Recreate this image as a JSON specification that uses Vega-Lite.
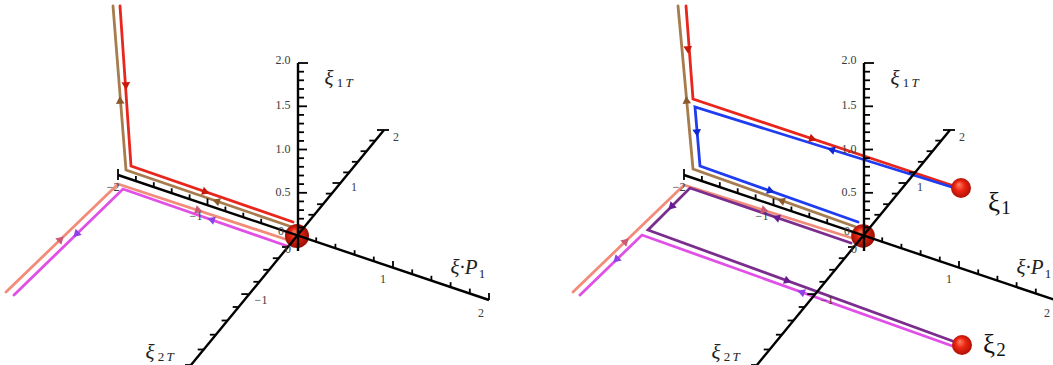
{
  "$schema": "https://vega.github.io/schema/vega-lite/v6.json",
  "padding": 0,
  "spacing": 0,
  "config": {"view": {"stroke": null}},
  "datasets": {
    "axisLines": [
      {"axis": "xi1T", "x": 295, "y": 248, "x2": 295, "y2": 60},
      {"axis": "xiP1", "x": 115, "y": 172, "x2": 486, "y2": 297},
      {"axis": "xi2T", "x": 381, "y": 127, "x2": 188, "y2": 362}
    ],
    "ticks": [
      {"x": 295, "y": 224.4, "x2": 301, "y2": 224.4},
      {"x": 295, "y": 215.7, "x2": 301, "y2": 215.7},
      {"x": 295, "y": 207.1, "x2": 301, "y2": 207.1},
      {"x": 295, "y": 198.4, "x2": 301, "y2": 198.4},
      {"x": 295, "y": 189.8, "x2": 304, "y2": 189.8},
      {"x": 295, "y": 181.1, "x2": 301, "y2": 181.1},
      {"x": 295, "y": 172.5, "x2": 301, "y2": 172.5},
      {"x": 295, "y": 163.8, "x2": 301, "y2": 163.8},
      {"x": 295, "y": 155.2, "x2": 301, "y2": 155.2},
      {"x": 295, "y": 146.5, "x2": 304, "y2": 146.5},
      {"x": 295, "y": 137.9, "x2": 301, "y2": 137.9},
      {"x": 295, "y": 129.2, "x2": 301, "y2": 129.2},
      {"x": 295, "y": 120.6, "x2": 301, "y2": 120.6},
      {"x": 295, "y": 111.9, "x2": 301, "y2": 111.9},
      {"x": 295, "y": 103.3, "x2": 304, "y2": 103.3},
      {"x": 295, "y": 94.6, "x2": 301, "y2": 94.6},
      {"x": 295, "y": 86.0, "x2": 301, "y2": 86.0},
      {"x": 295, "y": 77.3, "x2": 301, "y2": 77.3},
      {"x": 295, "y": 68.7, "x2": 301, "y2": 68.7},
      {"x": 295, "y": 60, "x2": 305, "y2": 60},
      {"x": 313.2, "y": 239.4, "x2": 313.2, "y2": 234.4},
      {"x": 332.4, "y": 245.8, "x2": 332.4, "y2": 240.8},
      {"x": 351.6, "y": 252.2, "x2": 351.6, "y2": 247.2},
      {"x": 370.8, "y": 258.6, "x2": 370.8, "y2": 253.6},
      {"x": 390, "y": 265, "x2": 390, "y2": 258},
      {"x": 409.2, "y": 271.4, "x2": 409.2, "y2": 266.4},
      {"x": 428.4, "y": 277.8, "x2": 428.4, "y2": 272.8},
      {"x": 447.6, "y": 284.2, "x2": 447.6, "y2": 279.2},
      {"x": 466.8, "y": 290.6, "x2": 466.8, "y2": 285.6},
      {"x": 486, "y": 297, "x2": 486, "y2": 290},
      {"x": 258.2, "y": 220.8, "x2": 258.2, "y2": 215.8},
      {"x": 240.3, "y": 214.7, "x2": 240.3, "y2": 209.7},
      {"x": 222.4, "y": 208.6, "x2": 222.4, "y2": 203.6},
      {"x": 204.5, "y": 202.5, "x2": 204.5, "y2": 195.5},
      {"x": 186.6, "y": 196.4, "x2": 186.6, "y2": 191.4},
      {"x": 168.7, "y": 190.3, "x2": 168.7, "y2": 185.3},
      {"x": 150.8, "y": 184.2, "x2": 150.8, "y2": 179.2},
      {"x": 132.9, "y": 178.1, "x2": 132.9, "y2": 173.1},
      {"x": 115, "y": 166, "x2": 115, "y2": 177},
      {"x": 311.4, "y": 211.8, "x2": 305.4, "y2": 211.8},
      {"x": 320.1, "y": 201.2, "x2": 314.1, "y2": 201.2},
      {"x": 328.8, "y": 190.6, "x2": 322.8, "y2": 190.6},
      {"x": 337.5, "y": 180, "x2": 329.5, "y2": 180},
      {"x": 346.2, "y": 169.4, "x2": 340.2, "y2": 169.4},
      {"x": 354.9, "y": 158.8, "x2": 348.9, "y2": 158.8},
      {"x": 363.6, "y": 148.2, "x2": 357.6, "y2": 148.2},
      {"x": 372.3, "y": 137.6, "x2": 366.3, "y2": 137.6},
      {"x": 374, "y": 127, "x2": 386, "y2": 127},
      {"x": 285.0, "y": 244.0, "x2": 279.0, "y2": 244.0},
      {"x": 275.8, "y": 255.2, "x2": 269.8, "y2": 255.2},
      {"x": 266.2, "y": 266.8, "x2": 260.2, "y2": 266.8},
      {"x": 256.4, "y": 278.8, "x2": 250.4, "y2": 278.8},
      {"x": 246.3, "y": 291.1, "x2": 238.3, "y2": 291.1},
      {"x": 235.7, "y": 304.0, "x2": 229.7, "y2": 304.0},
      {"x": 224.6, "y": 317.5, "x2": 218.6, "y2": 317.5},
      {"x": 212.9, "y": 331.7, "x2": 206.9, "y2": 331.7},
      {"x": 200.7, "y": 346.5, "x2": 194.7, "y2": 346.5},
      {"x": 188, "y": 362, "x2": 182, "y2": 362}
    ],
    "tickLabels": [
      {"x": 280, "y": 57, "text": "2.0"},
      {"x": 280, "y": 102, "text": "1.5"},
      {"x": 280, "y": 146, "text": "1.0"},
      {"x": 280, "y": 189, "text": "0.5"},
      {"x": 380, "y": 276, "text": "1"},
      {"x": 478, "y": 310, "text": "2"},
      {"x": 193, "y": 213, "text": "−1"},
      {"x": 110, "y": 184, "text": "−2"},
      {"x": 351, "y": 184, "text": "1"},
      {"x": 393, "y": 134, "text": "2"},
      {"x": 258, "y": 297, "text": "−1"},
      {"x": 278, "y": 228, "text": "0"},
      {"x": 285, "y": 246, "text": "0"}
    ],
    "axisTitles": [
      {"role": "symbol", "x": 326, "y": 76, "text": "ξ"},
      {"role": "index", "x": 337, "y": 80, "text": "1"},
      {"role": "indexItalic", "x": 346, "y": 80, "text": "T"},
      {"role": "symbol", "x": 461, "y": 265, "text": "ξ·P"},
      {"role": "index", "x": 479, "y": 271, "text": "1"},
      {"role": "symbol", "x": 147, "y": 350, "text": "ξ"},
      {"role": "index", "x": 158, "y": 354, "text": "2"},
      {"role": "indexItalic", "x": 167, "y": 354, "text": "T"}
    ],
    "origin": [{"x": 294, "y": 233}],
    "paths": [
      {"panel": "A", "series": "red", "i": 0, "x": 117, "y": 3},
      {"panel": "A", "series": "red", "i": 1, "x": 128, "y": 163},
      {"panel": "A", "series": "red", "i": 2, "x": 290, "y": 219},
      {"panel": "A", "series": "brown", "i": 0, "x": 110, "y": 3},
      {"panel": "A", "series": "brown", "i": 1, "x": 123, "y": 167},
      {"panel": "A", "series": "brown", "i": 2, "x": 289, "y": 224},
      {"panel": "A", "series": "salmon", "i": 0, "x": 3, "y": 289},
      {"panel": "A", "series": "salmon", "i": 1, "x": 115, "y": 181},
      {"panel": "A", "series": "salmon", "i": 2, "x": 285, "y": 237},
      {"panel": "A", "series": "magenta", "i": 0, "x": 11, "y": 292},
      {"panel": "A", "series": "magenta", "i": 1, "x": 120, "y": 186},
      {"panel": "A", "series": "magenta", "i": 2, "x": 284, "y": 243},
      {"panel": "B", "series": "red", "i": 0, "x": 117, "y": 3},
      {"panel": "B", "series": "red", "i": 1, "x": 124, "y": 96},
      {"panel": "B", "series": "red", "i": 2, "x": 391, "y": 185},
      {"panel": "B", "series": "blue", "i": 0, "x": 389, "y": 186},
      {"panel": "B", "series": "blue", "i": 1, "x": 126, "y": 104},
      {"panel": "B", "series": "blue", "i": 2, "x": 131, "y": 163},
      {"panel": "B", "series": "blue", "i": 3, "x": 289, "y": 219},
      {"panel": "B", "series": "brown", "i": 0, "x": 109, "y": 3},
      {"panel": "B", "series": "brown", "i": 1, "x": 124, "y": 166},
      {"panel": "B", "series": "brown", "i": 2, "x": 287, "y": 224},
      {"panel": "B", "series": "salmon", "i": 0, "x": 4, "y": 289},
      {"panel": "B", "series": "salmon", "i": 1, "x": 115, "y": 182},
      {"panel": "B", "series": "salmon", "i": 2, "x": 286, "y": 236},
      {"panel": "B", "series": "purple", "i": 0, "x": 389, "y": 340},
      {"panel": "B", "series": "purple", "i": 1, "x": 79, "y": 227},
      {"panel": "B", "series": "purple", "i": 2, "x": 121, "y": 185},
      {"panel": "B", "series": "purple", "i": 3, "x": 282, "y": 240},
      {"panel": "B", "series": "magenta", "i": 0, "x": 11, "y": 292},
      {"panel": "B", "series": "magenta", "i": 1, "x": 73, "y": 232},
      {"panel": "B", "series": "magenta", "i": 2, "x": 389, "y": 345}
    ],
    "arrows": [
      {"panel": "A", "series": "red", "x": 123, "y": 83, "heading": 176},
      {"panel": "A", "series": "red", "x": 203, "y": 189, "heading": 109},
      {"panel": "A", "series": "brown", "x": 117, "y": 97, "heading": 356},
      {"panel": "A", "series": "brown", "x": 213, "y": 198, "heading": 289},
      {"panel": "A", "series": "salmon", "x": 58, "y": 236, "heading": 46},
      {"panel": "A", "series": "salmon", "x": 196, "y": 207.5, "heading": 108},
      {"panel": "A", "series": "magenta", "x": 73, "y": 231.5, "heading": 226},
      {"panel": "A", "series": "magenta", "x": 208, "y": 216.5, "heading": 289},
      {"panel": "B", "series": "red", "x": 119, "y": 47, "heading": 176},
      {"panel": "B", "series": "red", "x": 244, "y": 136, "heading": 108},
      {"panel": "B", "series": "blue", "x": 262, "y": 146.5, "heading": 287},
      {"panel": "B", "series": "blue", "x": 128, "y": 130, "heading": 175},
      {"panel": "B", "series": "blue", "x": 202, "y": 188, "heading": 109},
      {"panel": "B", "series": "brown", "x": 117.5, "y": 97, "heading": 355},
      {"panel": "B", "series": "brown", "x": 212, "y": 197.5, "heading": 290},
      {"panel": "B", "series": "salmon", "x": 57, "y": 238, "heading": 46},
      {"panel": "B", "series": "salmon", "x": 196, "y": 207.5, "heading": 107},
      {"panel": "B", "series": "purple", "x": 207, "y": 214.5, "heading": 289},
      {"panel": "B", "series": "purple", "x": 102, "y": 204, "heading": 225},
      {"panel": "B", "series": "purple", "x": 219, "y": 278, "heading": 110},
      {"panel": "B", "series": "magenta", "x": 47, "y": 257, "heading": 226},
      {"panel": "B", "series": "magenta", "x": 232, "y": 289, "heading": 290}
    ],
    "endpoints": [
      {"name": "ξ1", "x": 392, "y": 185},
      {"name": "ξ2", "x": 393, "y": 342}
    ],
    "endpointLabels": [
      {"role": "symbol", "x": 425, "y": 200, "text": "ξ"},
      {"role": "index", "x": 437, "y": 205, "text": "1"},
      {"role": "symbol", "x": 420, "y": 342, "text": "ξ"},
      {"role": "index", "x": 432, "y": 347, "text": "2"}
    ]
  },
  "hconcat": [
    {
      "width": 526,
      "height": 365,
      "encoding": {
        "x": {"field": "x", "type": "quantitative", "axis": null, "scale": {"domain": [0, 526], "nice": false, "zero": false}},
        "y": {"field": "y", "type": "quantitative", "axis": null, "scale": {"domain": [0, 365], "nice": false, "zero": false, "reverse": true}}
      },
      "layer": [
        {
          "data": {"name": "paths"},
          "transform": [{"filter": "datum.panel === 'A'"}],
          "mark": {"type": "line", "strokeWidth": 2.8, "strokeCap": "round", "strokeJoin": "miter"},
          "encoding": {
            "stroke": {"field": "series", "type": "nominal", "legend": null,
              "scale": {"domain": ["red", "brown", "salmon", "magenta", "blue", "purple"], "range": ["#e8261c", "#a67c4e", "#f28b7a", "#e04fe6", "#1f3cf0", "#7b2d8e"]}},
            "order": {"field": "i", "type": "quantitative"}
          }
        },
        {
          "data": {"name": "origin"},
          "mark": {"type": "point", "shape": "circle", "filled": true, "opacity": 1, "size": 580,
            "fill": {"gradient": "radial", "x1": 0.38, "y1": 0.32, "r1": 0, "x2": 0.5, "y2": 0.5, "r2": 0.55,
              "stops": [{"offset": 0, "color": "#ff7a5c"}, {"offset": 0.4, "color": "#e3220f"}, {"offset": 1, "color": "#8e0a04"}]}}
        },
        {
          "data": {"name": "axisLines"},
          "mark": {"type": "rule", "color": "#000000", "strokeWidth": 2.4},
          "encoding": {"x2": {"field": "x2"}, "y2": {"field": "y2"}}
        },
        {
          "data": {"name": "ticks"},
          "mark": {"type": "rule", "color": "#000000", "strokeWidth": 1.8},
          "encoding": {"x2": {"field": "x2"}, "y2": {"field": "y2"}}
        },
        {
          "data": {"name": "arrows"},
          "transform": [{"filter": "datum.panel === 'A'"}],
          "mark": {"type": "point", "shape": "triangle-up", "filled": true, "opacity": 1, "size": 75},
          "encoding": {
            "fill": {"field": "series", "type": "nominal", "legend": null,
              "scale": {"domain": ["red", "brown", "salmon", "magenta", "blue", "purple"], "range": ["#c81808", "#8b5a2b", "#cc5a74", "#9040e8", "#1028d0", "#6a1a90"]}},
            "angle": {"field": "heading", "type": "quantitative", "scale": null}
          }
        },
        {
          "data": {"name": "tickLabels"},
          "mark": {"type": "text", "font": "Liberation Serif", "fontSize": 12, "color": "#3a3a3a", "align": "center", "baseline": "middle"},
          "encoding": {"text": {"field": "text"}}
        },
        {
          "data": {"name": "axisTitles"},
          "transform": [{"filter": "datum.role === 'symbol'"}],
          "mark": {"type": "text", "font": "Liberation Serif", "fontStyle": "italic", "fontSize": 21, "color": "#222222", "align": "center", "baseline": "middle"},
          "encoding": {"text": {"field": "text"}}
        },
        {
          "data": {"name": "axisTitles"},
          "transform": [{"filter": "datum.role === 'index'"}],
          "mark": {"type": "text", "font": "Liberation Serif", "fontSize": 13, "color": "#222222", "align": "center", "baseline": "middle"},
          "encoding": {"text": {"field": "text"}}
        },
        {
          "data": {"name": "axisTitles"},
          "transform": [{"filter": "datum.role === 'indexItalic'"}],
          "mark": {"type": "text", "font": "Liberation Serif", "fontStyle": "italic", "fontSize": 13, "color": "#222222", "align": "center", "baseline": "middle"},
          "encoding": {"text": {"field": "text"}}
        }
      ]
    },
    {
      "width": 527,
      "height": 365,
      "encoding": {
        "x": {"field": "x", "type": "quantitative", "axis": null, "scale": {"domain": [-40, 487], "nice": false, "zero": false}},
        "y": {"field": "y", "type": "quantitative", "axis": null, "scale": {"domain": [0, 365], "nice": false, "zero": false, "reverse": true}}
      },
      "layer": [
        {
          "data": {"name": "paths"},
          "transform": [{"filter": "datum.panel === 'B'"}],
          "mark": {"type": "line", "strokeWidth": 2.8, "strokeCap": "round", "strokeJoin": "miter"},
          "encoding": {
            "stroke": {"field": "series", "type": "nominal", "legend": null,
              "scale": {"domain": ["red", "brown", "salmon", "magenta", "blue", "purple"], "range": ["#e8261c", "#a67c4e", "#f28b7a", "#e04fe6", "#1f3cf0", "#7b2d8e"]}},
            "order": {"field": "i", "type": "quantitative"}
          }
        },
        {
          "data": {"name": "origin"},
          "mark": {"type": "point", "shape": "circle", "filled": true, "opacity": 1, "size": 560,
            "fill": {"gradient": "radial", "x1": 0.38, "y1": 0.32, "r1": 0, "x2": 0.5, "y2": 0.5, "r2": 0.55,
              "stops": [{"offset": 0, "color": "#ff7a5c"}, {"offset": 0.4, "color": "#e3220f"}, {"offset": 1, "color": "#8e0a04"}]}}
        },
        {
          "data": {"name": "axisLines"},
          "mark": {"type": "rule", "color": "#000000", "strokeWidth": 2.4},
          "encoding": {"x2": {"field": "x2"}, "y2": {"field": "y2"}}
        },
        {
          "data": {"name": "ticks"},
          "mark": {"type": "rule", "color": "#000000", "strokeWidth": 1.8},
          "encoding": {"x2": {"field": "x2"}, "y2": {"field": "y2"}}
        },
        {
          "data": {"name": "arrows"},
          "transform": [{"filter": "datum.panel === 'B'"}],
          "mark": {"type": "point", "shape": "triangle-up", "filled": true, "opacity": 1, "size": 75},
          "encoding": {
            "fill": {"field": "series", "type": "nominal", "legend": null,
              "scale": {"domain": ["red", "brown", "salmon", "magenta", "blue", "purple"], "range": ["#c81808", "#8b5a2b", "#cc5a74", "#9040e8", "#1028d0", "#6a1a90"]}},
            "angle": {"field": "heading", "type": "quantitative", "scale": null}
          }
        },
        {
          "data": {"name": "endpoints"},
          "mark": {"type": "point", "shape": "circle", "filled": true, "opacity": 1, "size": 400,
            "fill": {"gradient": "radial", "x1": 0.38, "y1": 0.32, "r1": 0, "x2": 0.5, "y2": 0.5, "r2": 0.55,
              "stops": [{"offset": 0, "color": "#ff8466"}, {"offset": 0.45, "color": "#ec2612"}, {"offset": 1, "color": "#a80c05"}]}}
        },
        {
          "data": {"name": "tickLabels"},
          "mark": {"type": "text", "font": "Liberation Serif", "fontSize": 12, "color": "#3a3a3a", "align": "center", "baseline": "middle"},
          "encoding": {"text": {"field": "text"}}
        },
        {
          "data": {"name": "axisTitles"},
          "transform": [{"filter": "datum.role === 'symbol'"}],
          "mark": {"type": "text", "font": "Liberation Serif", "fontStyle": "italic", "fontSize": 21, "color": "#222222", "align": "center", "baseline": "middle"},
          "encoding": {"text": {"field": "text"}}
        },
        {
          "data": {"name": "axisTitles"},
          "transform": [{"filter": "datum.role === 'index'"}],
          "mark": {"type": "text", "font": "Liberation Serif", "fontSize": 13, "color": "#222222", "align": "center", "baseline": "middle"},
          "encoding": {"text": {"field": "text"}}
        },
        {
          "data": {"name": "axisTitles"},
          "transform": [{"filter": "datum.role === 'indexItalic'"}],
          "mark": {"type": "text", "font": "Liberation Serif", "fontStyle": "italic", "fontSize": 13, "color": "#222222", "align": "center", "baseline": "middle"},
          "encoding": {"text": {"field": "text"}}
        },
        {
          "data": {"name": "endpointLabels"},
          "transform": [{"filter": "datum.role === 'symbol'"}],
          "mark": {"type": "text", "font": "Liberation Serif", "fontSize": 27, "color": "#111111", "align": "center", "baseline": "middle"},
          "encoding": {"text": {"field": "text"}}
        },
        {
          "data": {"name": "endpointLabels"},
          "transform": [{"filter": "datum.role === 'index'"}],
          "mark": {"type": "text", "font": "Liberation Serif", "fontSize": 19, "color": "#111111", "align": "center", "baseline": "middle"},
          "encoding": {"text": {"field": "text"}}
        }
      ]
    }
  ]
}
